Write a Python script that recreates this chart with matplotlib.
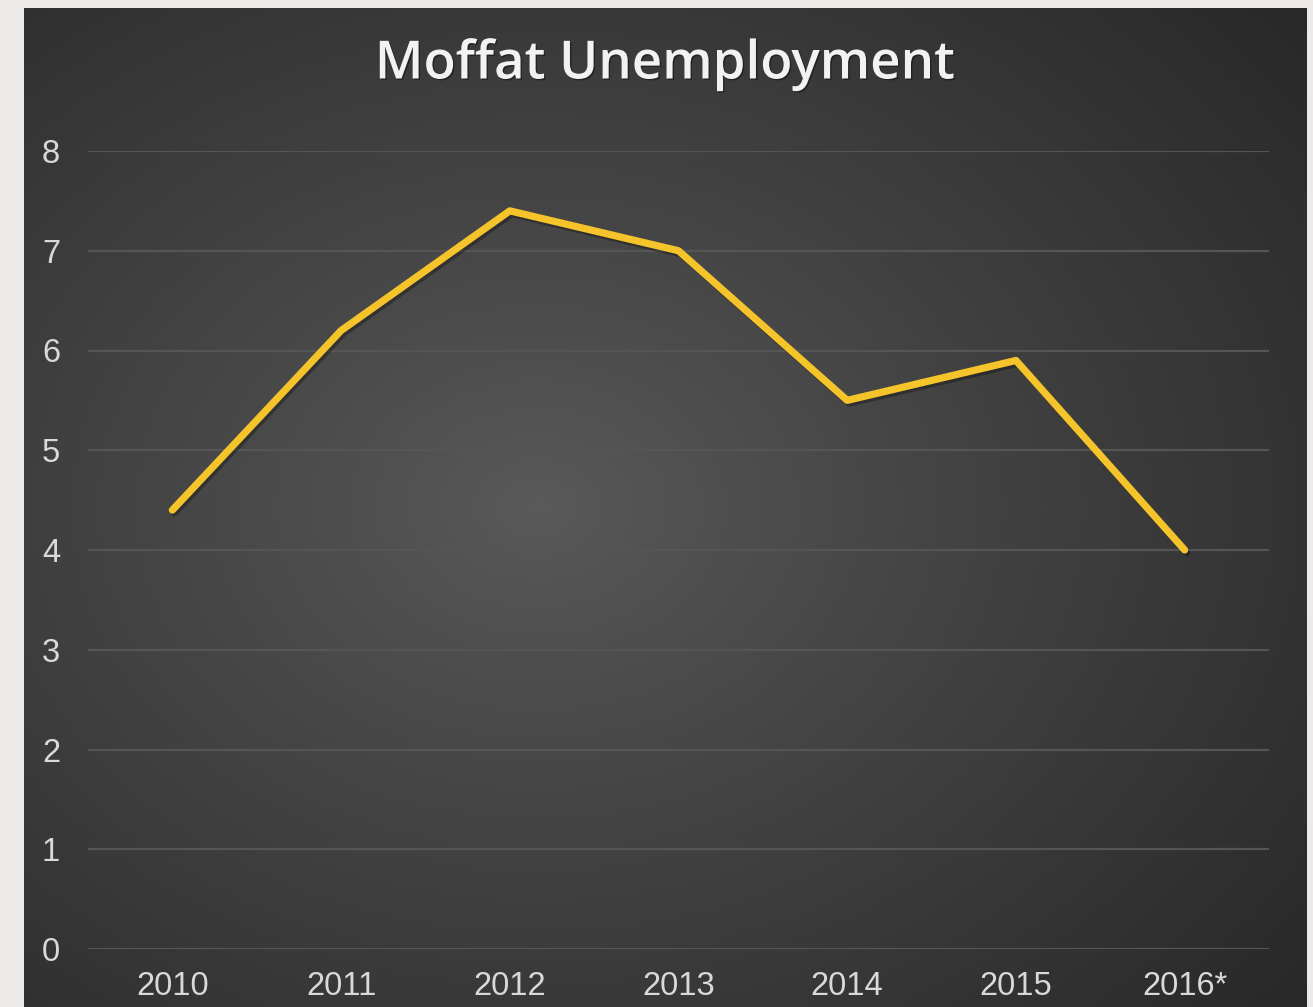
import numpy as np
import matplotlib
matplotlib.use("Agg")
import matplotlib.pyplot as plt
import matplotlib.patheffects as pe

# data
years = ["2010", "2011", "2012", "2013", "2014", "2015", "2016*"]
unemployment = [4.4, 6.2, 7.4, 7.0, 5.5, 5.9, 4.0]
yticks = [0, 1, 2, 3, 4, 5, 6, 7, 8]

W, H = 1313, 1007
fig = plt.figure(figsize=(W / 100, H / 100), dpi=100)
fig.patch.set_facecolor("#ECEBE9")

# dark chart area with radial gradient
bg = fig.add_axes([24 / W, 0, (1307 - 24) / W, (1007 - 8) / H])
bg.set_axis_off()
nx, ny = 400, 320
xx, yy = np.meshgrid(np.linspace(0, 1, nx), np.linspace(0, 1, ny))
cx, cy = 0.40, 0.50
r = np.sqrt(((xx - cx) / 0.8) ** 2 + ((yy - cy) / 0.8) ** 2)
r = np.clip(r, 0, 1) ** 0.9
c_in = np.array([0x5a, 0x5a, 0x5a]) / 255
c_out = np.array([0x27, 0x27, 0x27]) / 255
img = c_in[None, None, :] * (1 - r[..., None]) + c_out[None, None, :] * r[..., None]
bg.imshow(img, extent=[0, 1, 0, 1], aspect="auto", origin="upper")
bg.set_xlim(0, 1)
bg.set_ylim(0, 1)

# plot axes
ax = fig.add_axes([88 / W, 1 - 949 / H, (1269 - 88) / W, (949 - 151) / H])
ax.set_facecolor("none")
x = np.arange(len(years))
ax.plot(x, unemployment, color="#F4C42A", lw=5.2, solid_capstyle="round",
        solid_joinstyle="round", zorder=3,
        path_effects=[pe.SimpleLineShadow(offset=(1.5, -2), shadow_color="black", alpha=0.3),
                      pe.Normal()])

ax.set_xlim(-0.5, len(years) - 0.5)
ax.set_ylim(0, 8)
ax.set_yticks(yticks)
ax.set_xticks(x)
ax.set_xticklabels(years)
ax.grid(axis="y", color="#555555", lw=1.6)
ax.set_axisbelow(True)
for s in ax.spines.values():
    s.set_visible(False)
ax.tick_params(axis="both", length=0, colors="#D9D9D9", labelsize=23.5)
ax.tick_params(axis="y", pad=20)
ax.tick_params(axis="x", pad=16)
for lab in ax.get_xticklabels() + ax.get_yticklabels():
    lab.set_fontfamily("Liberation Sans")

fig.text(665 / W, 1 - 65 / H, "Moffat Unemployment", ha="center", va="center",
         fontsize=38, color="#F2F2F2", family="Open Sans", fontweight="semibold",
         path_effects=[pe.withSimplePatchShadow(offset=(1, -1), shadow_rgbFace="black", alpha=0.4)])

fig.savefig("out.png", dpi=100, facecolor=fig.get_facecolor())
